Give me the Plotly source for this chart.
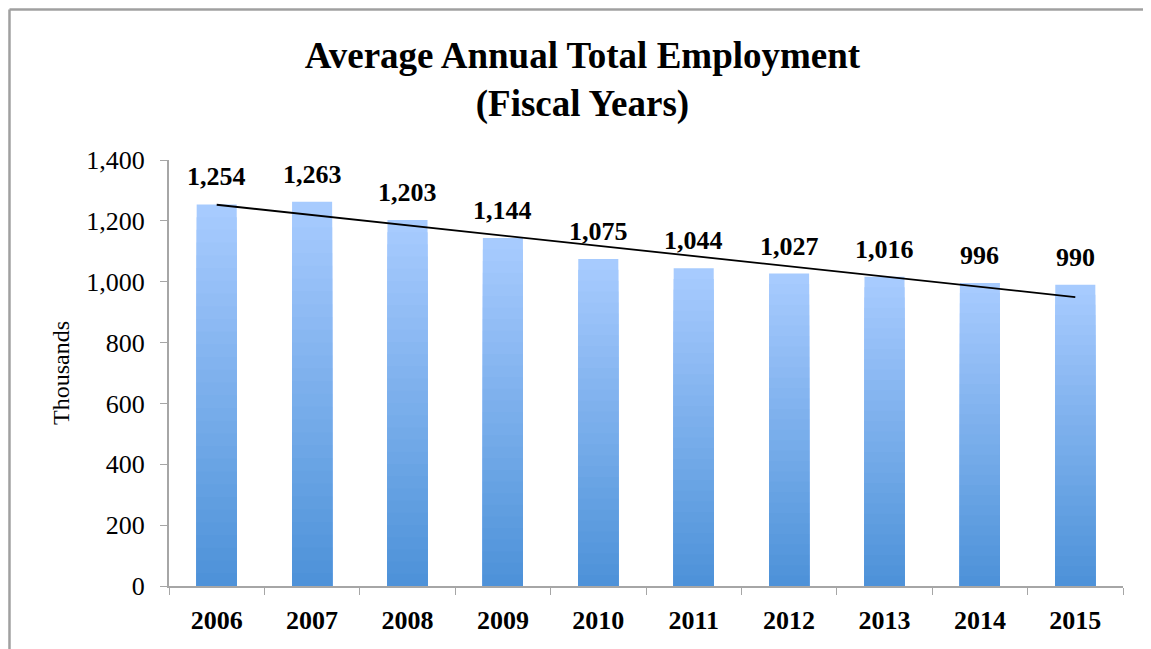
import numpy as np
import plotly.graph_objects as go

years = ["2006", "2007", "2008", "2009", "2010", "2011", "2012", "2013", "2014", "2015"]
employment = [1254, 1263, 1203, 1144, 1075, 1044, 1027, 1016, 996, 990]
y_ticks = [0, 200, 400, 600, 800, 1000, 1200, 1400]

FONT = "Liberation Serif"
TOP = np.array([0xA9, 0xCC, 0xFF])
BOTTOM = np.array([0x4C, 0x91, 0xD8])
N = 30

fig = go.Figure()

vals = np.array(employment, dtype=float)
for k in range(N):
    frac = 1 - k / N
    mid = 1 - (k + 0.5) / N  # relative height of the visible band
    c = BOTTOM + (TOP - BOTTOM) * mid
    fig.add_trace(go.Bar(
        x=years, y=(vals * frac).tolist(), width=0.42,
        marker=dict(color="rgb(%d,%d,%d)" % tuple(c.round().astype(int)), line=dict(width=0)),
        hoverinfo="skip" if k else None, showlegend=False,
    ))

# linear trendline from the data
xi = np.arange(len(years))
slope, intercept = np.polyfit(xi, vals, 1)
fig.add_trace(go.Scatter(
    x=[years[0], years[-1]], y=[float(intercept), float(intercept + slope * xi[-1])],
    mode="lines", line=dict(color="black", width=1.8), showlegend=False, hoverinfo="skip",
))

for i, v in enumerate(employment):
    fig.add_annotation(x=i, y=v, text="<b>{:,}</b>".format(v), showarrow=False,
                       yanchor="bottom", yshift=11,
                       font=dict(family=FONT, size=26, color="black"))

# outer chart-area border (top and left edges visible in the reference)
BORDER = dict(color="#A0A0A0", width=2.5)
fig.add_shape(type="line", xref="paper", yref="paper",
              x0=-0.1672, x1=1.2, y0=1.3533, y1=1.3533, line=BORDER, layer="below")
fig.add_shape(type="line", xref="paper", yref="paper",
              x0=-0.1672, x1=-0.1672, y0=-0.3, y1=1.3533, line=BORDER, layer="below")

fig.update_layout(
    width=1151, height=649,
    margin=dict(l=161, r=36, t=152, b=71, autoexpand=False),
    barmode="overlay",
    paper_bgcolor="white", plot_bgcolor="white",
    font=dict(family=FONT, color="black"),
    title=dict(text="<b>Average Annual Total Employment<br>(Fiscal Years)</b>",
               x=0.4991, xanchor="center", y=0.908, yanchor="middle",
               font=dict(family=FONT, size=37, color="black")),
    xaxis=dict(type="category", range=[-0.5, 9.5], tickson="boundaries", ticks="outside", ticklen=7,
               tickcolor="#A6A6A6", showline=True, linecolor="#A6A6A6", linewidth=2,
               showgrid=False, tickfont=dict(family=FONT, size=26), tickangle=0,
               tickprefix="<b>", ticksuffix="</b>", ticklabelstandoff=10),
    yaxis=dict(range=[0, 1400], tickvals=y_ticks, tickformat=",d", ticks="outside",
               ticklen=7, tickcolor="#A6A6A6", showline=True, linecolor="#A6A6A6",
               linewidth=2, showgrid=False, zeroline=False,
               tickfont=dict(family=FONT, size=26), ticklabelstandoff=10,
               title=dict(text="Thousands", font=dict(family=FONT, size=24), standoff=10)),
)

fig.write_html("out.html")
